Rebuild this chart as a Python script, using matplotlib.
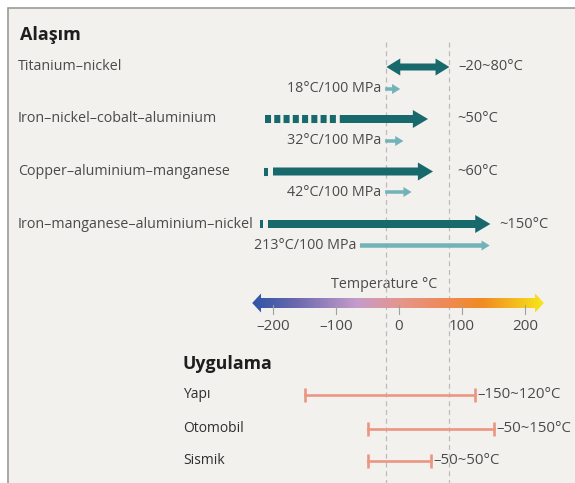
import matplotlib

matplotlib.use("Agg")
import matplotlib.pyplot as plt
import numpy as np
from matplotlib.colors import LinearSegmentedColormap
from matplotlib.patches import Polygon, Rectangle

plt.rcParams["font.family"] = ["Open Sans", "DejaVu Sans"]

# alloys and their transformation ranges (°C)
alloys = ["Titanium–nickel", "Iron–nickel–cobalt–aluminium",
          "Copper–aluminium–manganese", "Iron–manganese–aluminium–nickel"]
alloy_ranges = ["–20~80°C", "~50°C", "~60°C", "~150°C"]
arrow_start = [-20, -94, -200, -208]
arrow_end = [80, 46, 54, 145]
stub_start = [None, -213, -214, -221]
stub_end = [None, -100, -208, -216]

# stress-induced shift per 100 MPa
shift_labels = ["18°C/100 MPa", "32°C/100 MPa", "42°C/100 MPa", "213°C/100 MPa"]
shift_start = [-22, -22, -22, -62]
shift_end = [2, 7, 20, 144]

# applications
apps = ["Yapı", "Otomobil", "Sismik"]
app_low = [-150, -50, -50]
app_high = [120, 150, 50]
app_labels = ["–150~120°C", "–50~150°C", "–50~50°C"]

temp_ticks = [-200, -100, 0, 100, 200]
guide_temps = [-20, 80]
scale_min, scale_max = -233, 230

DARK = "#17696b"
LIGHT = "#72b3b8"
SALMON = "#eb9682"
GREY = "#4a4a4a"

W, H = 575, 483
X0, PX = 399, 0.63  # pixel of 0°C, pixels per °C


def arrow(x0, x1, y, shaft, head_w, head_l, both=False, **kw):
    h, hh = shaft / 2, head_w / 2
    if both:
        pts = [(x0, y), (x0 + head_l, y - hh), (x0 + head_l, y - h),
               (x1 - head_l, y - h), (x1 - head_l, y - hh), (x1, y),
               (x1 - head_l, y + hh), (x1 - head_l, y + h),
               (x0 + head_l, y + h), (x0 + head_l, y + hh)]
    else:
        pts = [(x0, y - h), (x1 - head_l, y - h), (x1 - head_l, y - hh),
               (x1, y), (x1 - head_l, y + hh), (x1 - head_l, y + h), (x0, y + h)]
    return Polygon(pts, closed=True, **kw)


fig = plt.figure(figsize=(W / 100, H / 100), dpi=100)
fig.patch.set_facecolor("white")

lay = fig.add_axes([0, 0, 1, 1])
lay.set_xlim(0, W)
lay.set_ylim(H, 0)
lay.axis("off")
lay.add_patch(Rectangle((8, 8), W, H, facecolor="#f2f1ee", edgecolor="#9a9a9a", lw=1.2))

ax = fig.add_axes([0, 0, 1, 1])
ax.set_xlim(-X0 / PX, (W - X0) / PX)
ax.set_ylim(H, 0)
ax.axis("off")

for t in guide_temps:
    ax.plot([t, t], [42, H], color="#bcbcbc", lw=0.9, ls=(0, (4, 3)), zorder=1)

lay.text(20, 35, "Alaşım", fontsize=13, fontweight="bold", color="#1e1e1e", va="center")

row_y = [67, 119, 171.5, 224]
shift_y = [89, 141, 192, 245.5]
for i, name in enumerate(alloys):
    y = row_y[i]
    lay.text(18, y, name, fontsize=10.3, color=GREY, va="center")
    if i == 0:
        ax.add_patch(arrow(arrow_start[i], arrow_end[i], y, 7, 17, 22, both=True,
                           facecolor=DARK, edgecolor="none", zorder=3))
    else:
        ax.add_patch(arrow(arrow_start[i], arrow_end[i], y, 8, 18, 24,
                           facecolor=DARK, edgecolor="none", zorder=3))
        ls = (0, (0.75, 0.4)) if i == 1 else "-"
        ax.plot([stub_start[i], stub_end[i]], [y, y], color=DARK, lw=5.8,
                ls=ls, solid_capstyle="butt", dash_capstyle="butt", zorder=3)
    tip_px = X0 + arrow_end[i] * PX
    lay.text(max(457, tip_px + 9), y, alloy_ranges[i], fontsize=10.5, color=GREY, va="center")

    sy = shift_y[i]
    sw = 4.5 if i == 3 else 3.5
    ax.add_patch(arrow(shift_start[i], shift_end[i], sy, sw, 10, 13,
                       facecolor=LIGHT, edgecolor="none", zorder=3))
    lay.text(X0 + shift_start[i] * PX - 4, sy, shift_labels[i], fontsize=10.3,
             color=GREY, va="center", ha="right")

# temperature scale
bar_y = 303
cmap = LinearSegmentedColormap.from_list("temp", [
    (0.0, "#2c55a4"), (0.15, "#6b68ae"), (0.36, "#c69ccb"), (0.5, "#e4968f"),
    (0.65, "#ee8a5c"), (0.79, "#f18a22"), (1.0, "#f7e61b")])
grad = np.linspace(0, 1, 256).reshape(1, -1)
im = ax.imshow(grad, cmap=cmap, aspect="auto", extent=(scale_min, scale_max, bar_y + 10, bar_y - 10),
               zorder=2, interpolation="bilinear")
clip = arrow(scale_min, scale_max, bar_y, 10, 19, 14, both=True, facecolor="none", edgecolor="none")
ax.add_patch(clip)
im.set_clip_path(clip)
for t in temp_ticks:
    ax.plot([t, t], [bar_y + 2, bar_y + 11], color="#a0a0a0", lw=0.8, zorder=3)
    ax.text(t, 327, f"{t}".replace("-", "–"), fontsize=11, color=GREY, ha="center", va="center")
lay.text(384, 285, "Temperature °C", fontsize=10.3, color=GREY, ha="center", va="center")

# applications
lay.text(182, 364, "Uygulama", fontsize=12.8, fontweight="bold", color="#1e1e1e", va="center")
app_y = [395, 428.5, 461]
for i, name in enumerate(apps):
    y = app_y[i]
    lay.text(183, y, name, fontsize=10, color="#2e2e2e", va="center", fontweight="medium")
    ax.plot([app_low[i], app_high[i]], [y, y], color=SALMON, lw=1.9, zorder=3)
    ax.plot([app_low[i], app_high[i]], [y, y], ls="none", marker="|", ms=10,
            mew=1.9, color=SALMON, zorder=3)
    lay.text(X0 + app_high[i] * PX + 3, y, app_labels[i], fontsize=10.8, color=GREY, va="center")

fig.savefig("out.png", dpi=100)
